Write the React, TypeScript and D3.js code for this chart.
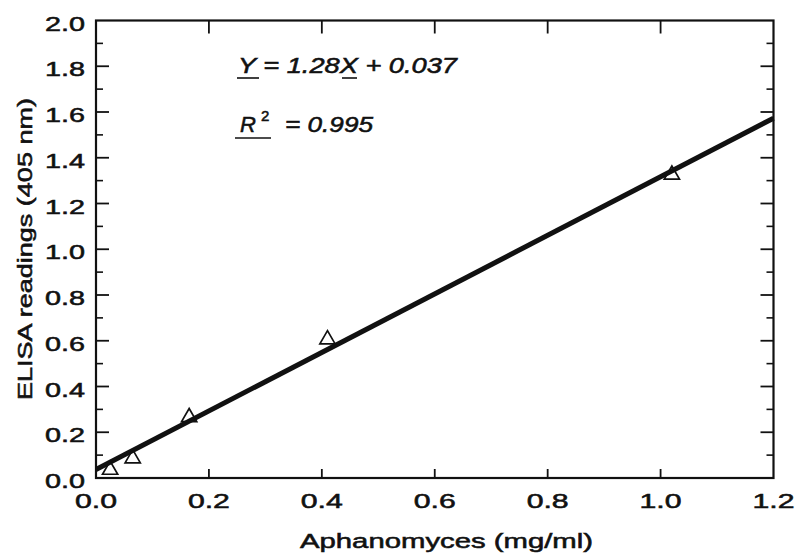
import React from "react";
import * as d3 from "d3";

const concentrations = [0.025, 0.065, 0.165, 0.41, 1.02];
const readings = [0.04, 0.09, 0.27, 0.61, 1.33];
const slope = 1.28;
const intercept = 0.037;
const xTicks = [0, 0.2, 0.4, 0.6, 0.8, 1.0, 1.2];
const yTicks = [0, 0.2, 0.4, 0.6, 0.8, 1.0, 1.2, 1.4, 1.6, 1.8, 2.0];
const yMinor = [0.1, 0.3, 0.5, 0.7, 0.9, 1.1, 1.3, 1.5, 1.7, 1.9];

const width = 796;
const height = 558;
const margin = { left: 96, right: 22.5, top: 20.5, bottom: 80 };
const font = "'Liberation Sans', Arial, sans-serif";
const ink = "#111";
// scanned print looks a bit heavier than regular weight
const heavy = { stroke: ink, strokeWidth: 0.55 };

export default function App() {
  const x = d3.scaleLinear().domain([0, 1.2]).range([margin.left, width - margin.right]);
  const y = d3.scaleLinear().domain([0, 2.0]).range([height - margin.bottom, margin.top]);
  const x0 = x(0), x1 = x(1.2), y0 = y(0), y1 = y(2.0);

  const fitLine = d3.line<number>().x((v) => x(v)).y((v) => y(slope * v + intercept));
  const tri = d3.symbol().type(d3.symbolTriangle).size(100);

  return (
    <svg width={width} height={height} style={{ position: "absolute", left: 0, top: 0, background: "#fff" }}>
      {/* frame */}
      <rect x={x0} y={y1} width={x1 - x0} height={y0 - y1} fill="none" stroke={ink} strokeWidth={2.2} />

      {/* y ticks both sides, inward */}
      {yTicks.slice(1, -1).map((t) => (
        <g key={"y" + t}>
          <line x1={x0} x2={x0 + 13} y1={y(t)} y2={y(t)} stroke={ink} strokeWidth={1.8} />
          <line x1={x1} x2={x1 - 13} y1={y(t)} y2={y(t)} stroke={ink} strokeWidth={1.8} />
        </g>
      ))}
      {yMinor.map((t) => (
        <g key={"m" + t}>
          <line x1={x0} x2={x0 + 7} y1={y(t)} y2={y(t)} stroke={ink} strokeWidth={1.6} />
          <line x1={x1} x2={x1 - 7} y1={y(t)} y2={y(t)} stroke={ink} strokeWidth={1.6} />
        </g>
      ))}
      {/* x ticks top and bottom */}
      {xTicks.slice(1, -1).map((t) => (
        <g key={"x" + t}>
          <line x1={x(t)} x2={x(t)} y1={y0} y2={y0 - 9} stroke={ink} strokeWidth={1.8} />
          <line x1={x(t)} x2={x(t)} y1={y1} y2={y1 + 13} stroke={ink} strokeWidth={1.8} />
        </g>
      ))}

      {/* tick labels */}
      {yTicks.map((t) => (
        <text
          key={"yl" + t}
          x={x0 - 51}
          y={y(t) + 10}
          textLength={40}
          lengthAdjust="spacingAndGlyphs"
          fontFamily={font}
          fontSize={21}
          fill={ink}
          {...heavy}
        >
          {t.toFixed(1)}
        </text>
      ))}
      {xTicks.map((t) => (
        <text
          key={"xl" + t}
          x={x(t) - 21}
          y={y0 + 30}
          textLength={42}
          lengthAdjust="spacingAndGlyphs"
          fontFamily={font}
          fontSize={21}
          fill={ink}
          {...heavy}
        >
          {t.toFixed(1)}
        </text>
      ))}

      {/* axis titles */}
      <text x={300} y={548} textLength={293} lengthAdjust="spacingAndGlyphs" fontFamily={font} fontSize={21} fill={ink} {...heavy}>
        Aphanomyces (mg/ml)
      </text>
      <text
        transform={`translate(32, 400) rotate(-90)`}
        textLength={302}
        lengthAdjust="spacingAndGlyphs"
        fontFamily={font}
        fontSize={21}
        fill={ink}
        {...heavy}
      >
        ELISA readings (405 nm)
      </text>

      {/* regression line */}
      <path d={fitLine([0, 1.2]) ?? ""} fill="none" stroke={ink} strokeWidth={5} />

      {/* data points */}
      {concentrations.map((c, i) => (
        <path
          key={"p" + i}
          d={tri() ?? ""}
          transform={`translate(${x(c)}, ${y(readings[i]) + 1})`}
          fill="none"
          stroke={ink}
          strokeWidth={1.7}
        />
      ))}

      {/* equation */}
      <text x={238} y={73} textLength={219} lengthAdjust="spacingAndGlyphs" fontFamily={font} fontSize={22} fontStyle="italic" fill={ink} {...heavy}>
        Y = {slope.toFixed(2)}X + {intercept.toFixed(3)}
      </text>
      <line x1={237} x2={259} y1={78} y2={78} stroke={ink} strokeWidth={1.6} />
      <line x1={342} x2={357} y1={78} y2={78} stroke={ink} strokeWidth={1.6} />
      <text x={240} y={132} fontFamily={font} fontSize={22} fontStyle="italic" fill={ink} {...heavy}>R</text>
      <text x={261} y={121} fontFamily={font} fontSize={15} fill={ink} {...heavy}>2</text>
      <text x={285} y={132} textLength={88} lengthAdjust="spacingAndGlyphs" fontFamily={font} fontSize={22} fontStyle="italic" fill={ink} {...heavy}>
        = 0.995
      </text>
      <line x1={235} x2={271} y1={138} y2={138} stroke={ink} strokeWidth={1.6} />
    </svg>
  );
}
